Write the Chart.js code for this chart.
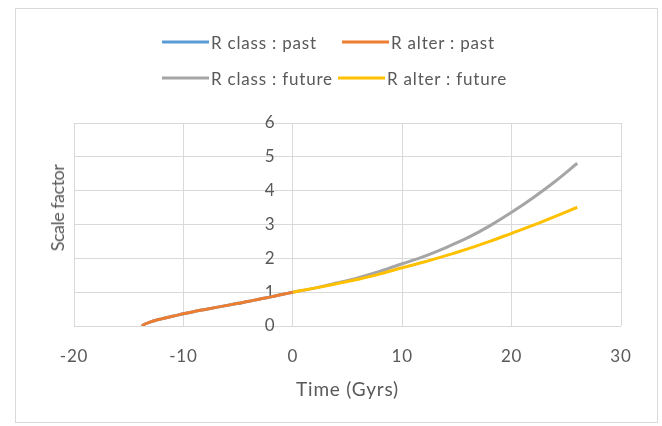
<!DOCTYPE html>
<html><head><meta charset="utf-8">
<script src="https://cdn.jsdelivr.net/npm/chart.js@4.4.1/dist/chart.umd.min.js"></script>
<style>
html,body{margin:0;padding:0;background:#fff;}
#wrap{position:relative;width:662px;height:426px;overflow:hidden;font-family:Lato,sans-serif;color:#595959;}
#frame{position:absolute;left:15px;top:8px;width:643px;height:415px;border:1px solid #d9d9d9;box-sizing:border-box;}
canvas{position:absolute;left:0;top:0;}
.leg{position:absolute;display:flex;align-items:center;font-size:17px;letter-spacing:0.8px;white-space:nowrap;transform:translateY(-50%);}
.leg .sw{width:47px;height:3px;margin-right:2px;}
#ytitle{position:absolute;left:57px;top:208px;transform:translate(-50%,-50%) rotate(-90deg);font-size:18px;letter-spacing:-0.5px;white-space:nowrap;}
</style></head>
<body>
<div id="wrap">
  <div id="frame"></div>
  <canvas id="c" width="662" height="426"></canvas>
  <div id="legend"></div>
  <div id="ytitle"></div>
</div>
<script>
// ---- data ----
const seriesLabels = ['R class : past', 'R alter : past', 'R class : future', 'R alter : future'];
const seriesColors = ['#5B9BD5', '#ED7D31', '#A5A5A5', '#FFC000'];
const pastTime    = [-13.8, -13.5, -13, -12.5, -12, -11, -10, -9, -8, -7, -6, -5, -4, -3, -2, -1, 0];
const classPast   = [0, 0.06, 0.12, 0.17, 0.21, 0.29, 0.36, 0.43, 0.49, 0.55, 0.61, 0.67, 0.73, 0.80, 0.86, 0.93, 1.00];
const alterPast   = [0, 0.06, 0.12, 0.17, 0.21, 0.29, 0.36, 0.43, 0.49, 0.55, 0.61, 0.67, 0.73, 0.80, 0.86, 0.93, 1.00];
const futureTime  = [0, 2, 4, 6, 8, 10, 12, 14, 16, 18, 20, 22, 24, 26];
const classFuture = [1.00, 1.12, 1.27, 1.43, 1.62, 1.84, 2.06, 2.32, 2.61, 2.96, 3.36, 3.80, 4.28, 4.81];
const alterFuture = [1.00, 1.12, 1.25, 1.38, 1.54, 1.72, 1.89, 2.08, 2.28, 2.50, 2.74, 2.98, 3.24, 3.51];
const xTicks = [-20, -10, 0, 10, 20, 30];
const yTicks = [0, 1, 2, 3, 4, 5, 6];
const xTitle = 'Time (Gyrs)';
const yTitle = 'Scale factor';

const pts = (xs, ys) => xs.map((x, i) => ({x: x, y: ys[i]}));
const seriesData = [pts(pastTime, classPast), pts(pastTime, alterPast), pts(futureTime, classFuture), pts(futureTime, alterFuture)];
const drawOrder = [4, 1, 3, 2]; // lower = drawn on top (orange over blue, yellow over gray)

const txt = '#595959';
const grid = '#d9d9d9';

const ds = seriesLabels.map((l, i) => ({
  label: l, data: seriesData[i], borderColor: seriesColors[i], backgroundColor: seriesColors[i],
  borderWidth: 3, pointRadius: 0, cubicInterpolationMode: 'monotone', fill: false, order: drawOrder[i]
}));

const spacing = {
  id: 'spacing',
  beforeDraw(chart) { chart.ctx.letterSpacing = '0.8px'; }
};

new Chart(document.getElementById('c'), {
  type: 'line',
  data: { datasets: ds },
  plugins: [spacing],
  options: {
    responsive: false, animation: false,
    layout: { padding: { left: 74, right: 41, top: 123, bottom: 0 } },
    plugins: { legend: { display: false }, tooltip: { enabled: false } },
    scales: {
      x: {
        type: 'linear', min: xTicks[0], max: xTicks[xTicks.length - 1],
        afterBuildTicks: s => { s.ticks = xTicks.map(v => ({value: v})); },
        afterFit: s => { s.height = 100; },
        ticks: { color: txt, font: { family: 'Lato', size: 17 }, padding: 20 },
        grid: { color: grid, drawTicks: false, lineWidth: 1 },
        border: { display: false },
        title: { display: true, text: xTitle, color: txt, font: { family: 'Lato', size: 19 }, padding: { top: 0, bottom: 25 } }
      },
      y: {
        // labels sit just left of the x = 0 crossing line
        type: 'linear', position: { x: -1.6 }, min: yTicks[0], max: yTicks[yTicks.length - 1],
        afterBuildTicks: s => { s.ticks = yTicks.map(v => ({value: v})); },
        ticks: { color: txt, font: { family: 'Lato', size: 17 } },
        grid: { color: grid, drawTicks: false, lineWidth: 1 },
        border: { display: false }
      }
    }
  }
});

// HTML legend built from the series arrays
const legPos = [[162, 42], [342, 42], [162, 78], [338, 78]];
const legend = document.getElementById('legend');
seriesLabels.forEach((l, i) => {
  const d = document.createElement('div');
  d.className = 'leg';
  d.style.left = legPos[i][0] + 'px';
  d.style.top = legPos[i][1] + 'px';
  const sw = document.createElement('span');
  sw.className = 'sw'; sw.style.background = seriesColors[i];
  const t = document.createElement('span'); t.textContent = l;
  d.appendChild(sw); d.appendChild(t);
  legend.appendChild(d);
});
document.getElementById('ytitle').textContent = yTitle;
</script>
</body></html>
